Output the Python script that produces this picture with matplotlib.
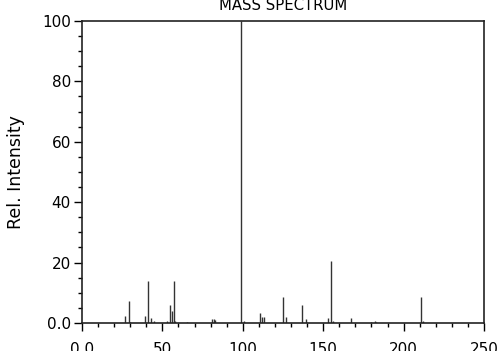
import matplotlib
matplotlib.use('Agg')
import matplotlib.pyplot as plt
from matplotlib.ticker import MultipleLocator

# peak list (m/z, relative intensity)
mz = [27, 29, 30, 39, 41, 43, 45, 53, 55, 56, 57, 58, 65,
      81, 82, 83, 99, 101, 111, 112, 113, 125, 127, 137, 139,
      153, 155, 156, 167, 180, 182, 183, 211, 212]
intensity = [2.2, 7.2, 0.4, 2.3, 14.0, 1.6, 0.5, 0.5, 5.9, 4.0, 14.0, 0.6, 0.2,
             1.3, 1.4, 1.0, 100.0, 0.8, 3.2, 2.0, 2.0, 8.5, 2.1, 5.9, 1.2,
             1.5, 20.4, 0.8, 1.8, 0.4, 0.5, 0.4, 8.5, 0.7]

fig = plt.figure(figsize=(4.99, 3.51), dpi=100)
ax = fig.add_axes([0.1643, 0.0798, 0.8057, 0.8604])

ax.vlines(mz, 0, intensity, colors='#333333', linewidth=1.0)

ax.set_xlim(0, 250)
ax.set_ylim(0, 100)
ax.xaxis.set_minor_locator(MultipleLocator(10))
ax.yaxis.set_minor_locator(MultipleLocator(5))
ax.set_xticks([0, 50, 100, 150, 200, 250])
ax.set_xticklabels(['0.0', '50', '100', '150', '200', '250'])
ax.set_yticks([0, 20, 40, 60, 80, 100])
ax.set_yticklabels(['0.0', '20', '40', '60', '80', '100'])

ax.tick_params(which='major', direction='out', length=6, width=1, labelsize=11, pad=2)
ax.tick_params(axis='x', which='major', pad=8)
ax.tick_params(which='minor', direction='out', length=3, width=1)
ax.tick_params(top=False, right=False)
for s in ax.spines.values():
    s.set_linewidth(1.2)
    s.set_color('#222222')

ax.set_ylabel('Rel. Intensity', fontsize=12.5, labelpad=12)
ax.set_title('MASS SPECTRUM', fontsize=10.7, pad=8)

fig.savefig('out.png', dpi=100)
